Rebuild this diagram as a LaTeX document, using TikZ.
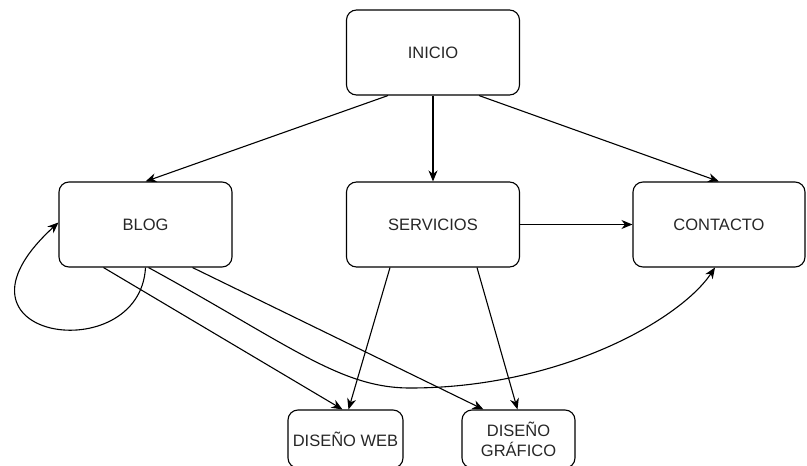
\documentclass[tikz,border=0pt]{standalone}
\usepackage{fontspec}
\setmainfont{Liberation Sans}
\usetikzlibrary{arrows.meta}
\begin{document}
\begin{tikzpicture}[x=1pt,y=-1pt,
  box/.style={draw=black, line width=1.1pt, rounded corners=10pt, align=center,
    inner sep=0pt, font=\fontsize{16.5}{20}\selectfont, text=black!85},
  big/.style={box, minimum width=173pt, minimum height=85pt},
  small/.style={box, minimum width=115pt, minimum height=58pt},
  conn/.style={line width=1.1pt, -{Stealth[length=11pt,width=9pt,inset=3.5pt]}}]
\useasboundingbox (0,0) rectangle (807,466);
\clip (0,0) rectangle (807,466);
\fill[white] (0,0) rectangle (807,466);
\node[big] (inicio) at (433,52.5) {INICIO};
\node[big] (blog) at (145.5,224.5) {BLOG};
\node[big] (serv) at (433,224.5) {SERVICIOS};
\node[big, minimum width=172pt] (cont) at (719,224.5) {CONTACTO};
\node[small] (web) at (345.5,439) {DISEÑO WEB};
\node[small, minimum width=113pt] (graf) at (518.5,439) {DISEÑO\\GRÁFICO};
\draw[conn] ([xshift=-45pt]inicio.south) -- (blog.north);
\draw[conn] (inicio.south) -- (serv.north);
\draw[conn] ([xshift=46pt]inicio.south) -- (cont.north);
\draw[conn] (serv.east) -- (cont.west);
\draw[conn] (blog.south) .. controls (140,370) and (-70,340) .. ([yshift=2pt]blog.west);
\draw[conn] ([xshift=-42pt]blog.south) -- ([xshift=-3pt]web.north);
\draw[conn] ([xshift=3pt]blog.south) .. controls (290,345) and (340,388) .. (410,388)
  .. controls (560,388) and (680,320) .. ([xshift=-4pt]cont.south);
\draw[conn] ([xshift=47pt]blog.south) -- ([xshift=-35pt]graf.north);
\draw[conn] ([xshift=-43pt]serv.south) -- ([xshift=3pt]web.north);
\draw[conn] ([xshift=44pt]serv.south) -- ([xshift=-1pt]graf.north);
\end{tikzpicture}
\end{document}
